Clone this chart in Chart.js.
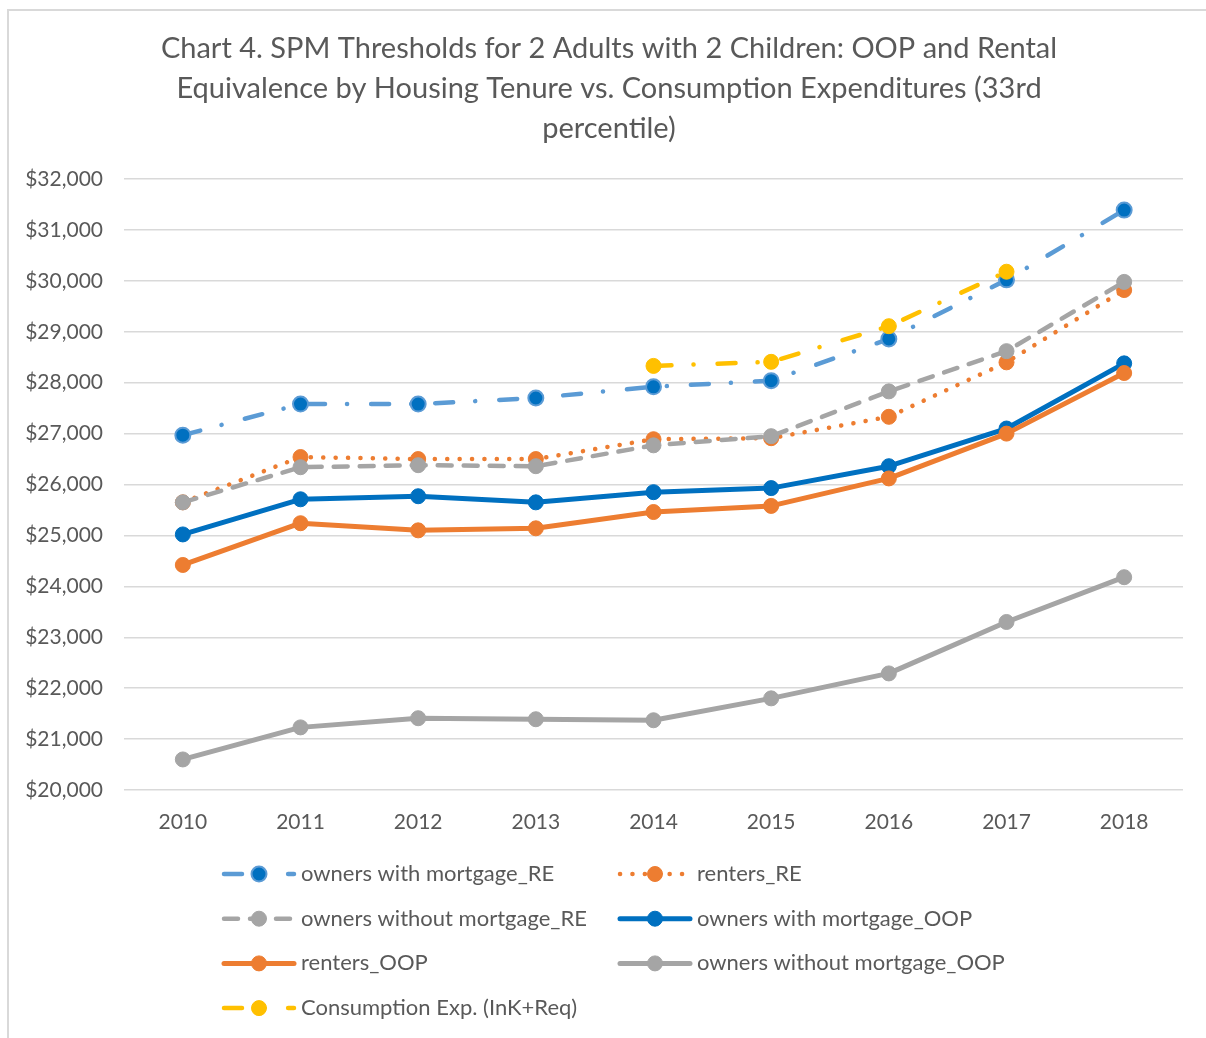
<!DOCTYPE html>
<html>
<head>
<meta charset="utf-8">
<script src="https://cdn.jsdelivr.net/npm/chart.js@4/dist/chart.umd.min.js"></script>
<style>
  html, body { margin: 0; padding: 0; background: #fff; }
  #wrap { position: absolute; left: 0; top: 0; width: 1206px; height: 1038px; }
</style>
</head>
<body>
<div id="wrap"><canvas id="c" width="1206" height="1038"></canvas></div>
<script>
const years = ['2010','2011','2012','2013','2014','2015','2016','2017','2018'];
const ownersMortgageRE   = [26970, 27580, 27580, 27700, 27920, 28040, 28860, 30020, 31390];
const rentersRE          = [25650, 26540, 26500, 26500, 26890, 26910, 27330, 28400, 29820];
const ownersNoMortgageRE = [25650, 26340, 26380, 26360, 26770, 26950, 27830, 28620, 29980];
const ownersMortgageOOP  = [25020, 25710, 25770, 25650, 25850, 25930, 26360, 27100, 28380];
const rentersOOP         = [24420, 25240, 25100, 25140, 25460, 25580, 26120, 27000, 28190];
const ownersNoMortgageOOP= [20600, 21230, 21410, 21390, 21370, 21800, 22290, 23300, 24180];
const consumptionExp     = [null, null, null, null, 28330, 28410, 29110, 30180, null];
const seriesNames = ['owners with mortgage_RE','renters_RE','owners without mortgage_RE','owners with mortgage_OOP','renters_OOP','owners without mortgage_OOP','Consumption Exp. (InK+Req)'];
const titleLines = ['Chart 4. SPM Thresholds for 2 Adults with 2 Children: OOP and Rental','Equivalence by Housing Tenure vs. Consumption Expenditures (33rd','percentile)'];
const yMin = 20000, yMax = 32000, yStep = 1000;

const TXT = '#595959';
const FONT = 'Lato';
const dashDot = [18, 22, 0.1, 24];

function ds(label, data, color, width, dash, ptFill, ptBorder, ptBorderW, idx) {
  return {
    label, data, yAxisID: 'y',
    borderColor: color, borderWidth: width, borderDash: dash, borderCapStyle: 'round', borderJoinStyle: 'round',
    pointRadius: 7.5, pointBackgroundColor: ptFill, pointBorderColor: ptBorder, pointBorderWidth: ptBorderW,
    pointStyle: 'circle', fill: false, tension: 0, spanGaps: false,
    order: 10 - idx
  };
}

const datasets = [
  ds(seriesNames[0], ownersMortgageRE, '#5B9BD5', 4.5, dashDot, '#0070C0', '#5B9BD5', 2, 0),
  ds(seriesNames[1], rentersRE, '#ED7D31', 4.5, [0.1, 12.3], '#ED7D31', '#ED7D31', 1, 1),
  ds(seriesNames[2], ownersNoMortgageRE, '#A5A5A5', 4.5, [14, 12], '#A5A5A5', '#A5A5A5', 1, 2),
  ds(seriesNames[3], ownersMortgageOOP, '#0070C0', 5, [], '#0070C0', '#0070C0', 1, 3),
  ds(seriesNames[4], rentersOOP, '#ED7D31', 5, [], '#ED7D31', '#ED7D31', 1, 4),
  ds(seriesNames[5], ownersNoMortgageOOP, '#A5A5A5', 5, [], '#A5A5A5', '#A5A5A5', 1, 5),
  ds(seriesNames[6], consumptionExp, '#FFC000', 4.5, dashDot, '#FFC000', '#FFC000', 1, 6)
];

const frame = {
  id: 'frame',
  beforeDraw(chart) {
    const c = chart.ctx;
    c.save();
    c.fillStyle = '#fff';
    c.fillRect(0, 0, chart.width, chart.height);
    c.strokeStyle = '#D9D9D9';
    c.lineWidth = 2;
    c.beginPath();
    c.moveTo(8, chart.height); c.lineTo(8, 10); c.lineTo(chart.width, 10);
    c.stroke();
    c.restore();
  }
};

const customLegend = {
  id: 'customLegend',
  afterDraw(chart) {
    const c = chart.ctx;
    const base = chart.chartArea.bottom;
    const cols = [222, 618];
    const rowGap = 44.7;
    chart.data.datasets.forEach((d, i) => {
      const x0 = cols[i % 2];
      const y = base + 84 + Math.floor(i / 2) * rowGap;
      c.save();
      c.strokeStyle = d.borderColor;
      c.lineWidth = d.borderWidth;
      c.lineCap = 'round';
      c.setLineDash(d.borderDash || []);
      c.beginPath();
      c.moveTo(x0 + 2, y); c.lineTo(x0 + 72, y);
      c.stroke();
      c.setLineDash([]);
      c.beginPath();
      c.arc(x0 + 37, y, 7.5, 0, Math.PI * 2);
      c.fillStyle = d.pointBackgroundColor;
      c.fill();
      c.lineWidth = d.pointBorderWidth;
      c.strokeStyle = d.pointBorderColor;
      c.stroke();
      c.fillStyle = TXT;
      c.font = '22px ' + FONT;
      c.textBaseline = 'middle';
      c.textAlign = 'left';
      c.fillText(d.label, x0 + 79, y);
      c.restore();
    });
  }
};

new Chart(document.getElementById('c'), {
  type: 'line',
  data: { labels: years, datasets },
  options: {
    responsive: false,
    animation: false,
    events: [],
    layout: { padding: { left: 12, right: 0, top: 0, bottom: 188 } },
    plugins: {
      legend: { display: false },
      tooltip: { enabled: false },
      title: {
        display: true, text: titleLines, color: TXT,
        font: { family: FONT, size: 29, weight: 'normal', lineHeight: 1.38 },
        padding: { top: 29, bottom: 30 }
      }
    },
    scales: {
      x: {
        offset: true,
        grid: { display: false },
        border: { display: false },
        ticks: { color: TXT, font: { family: FONT, size: 21 }, padding: 12 },
        afterFit: s => { s.height = 60; }
      },
      y: {
        min: yMin, max: yMax,
        ticks: {
          stepSize: yStep, color: TXT, font: { family: FONT, size: 21 }, padding: 21,
          callback: v => '$' + Number(v).toLocaleString('en-US')
        },
        grid: { color: '#D9D9D9', lineWidth: 1.5, drawTicks: false },
        border: { display: false },
        afterFit: s => { s.width = 112; }
      },
      yRight: {
        position: 'right', display: true,
        grid: { display: false, drawTicks: false },
        border: { display: false },
        ticks: { display: false },
        afterFit: s => { s.width = 23; }
      }
    }
  },
  plugins: [frame, customLegend]
});
</script>
</body>
</html>
